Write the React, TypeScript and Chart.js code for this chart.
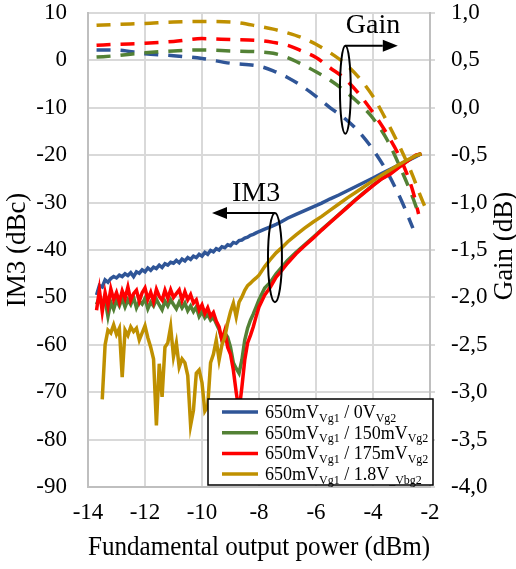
import React, { useEffect, useRef } from 'react';
import { Chart, registerables } from 'chart.js';

Chart.register(...registerables);

const FONT = '"Liberation Serif", "Times New Roman", serif';

// ---- IM3 (left axis, dBc) ----
const IM3_X = [
  -13.7, -13.6, -13.5, -13.4, -13.3, -13.2, -13.1, -13.0, -12.9, -12.8,
  -12.7, -12.6, -12.5, -12.4, -12.3, -12.2, -12.1, -12.0, -11.9, -11.8,
  -11.7, -11.6, -11.5, -11.4, -11.3, -11.2, -11.1, -11.0, -10.9, -10.8,
  -10.7, -10.6, -10.5, -10.4, -10.3, -10.2, -10.1, -10.0, -9.9, -9.8,
  -9.7, -9.6, -9.5, -9.4, -9.3, -9.2, -9.1, -9.0, -8.9, -8.8,
  -8.7, -8.6, -8.5, -8.4, -8.3, -8.2, -8.1, -8.0,
  -7.8, -7.6, -7.4, -7.2, -7.0, -6.7, -6.4, -6.1, -5.8, -5.5,
  -5.2, -4.9, -4.6, -4.3, -4.0, -3.7, -3.4, -3.1, -2.8, -2.5, -2.3,
];

const IM3_BLUE = [
  -49.5, -47.5, -47.8, -46.3, -46.8, -46.0, -45.6, -45.9, -45.3, -45.6,
  -45.0, -45.4, -44.8, -45.6, -44.6, -44.9, -44.2, -44.6, -43.8, -44.3,
  -43.6, -43.9, -43.2, -43.7, -42.9, -43.2, -42.6, -42.8, -42.2, -42.7,
  -41.9, -42.3, -41.6, -42.0, -41.3, -41.6, -40.9, -41.3, -40.5, -40.9,
  -40.1, -40.4, -39.7, -40.0, -39.3, -39.5, -38.9, -39.1, -38.4, -38.6,
  -38.0, -37.9, -37.5, -37.3, -36.9, -36.7, -36.4, -36.1,
  -35.6, -35.1, -34.6, -34.0, -33.3, -32.5, -31.7, -30.9, -30.1, -29.2,
  -28.4, -27.5, -26.6, -25.7, -24.8, -23.9, -23.0, -22.1, -21.2, -20.3, -19.7,
];

const IM3_GREEN = [
  -51.5, -50.0, -51.8, -50.5, -54.0, -51.0, -52.5, -50.6, -51.8, -50.2,
  -52.0, -50.5, -51.5, -50.0, -52.2, -50.8, -51.4, -50.2, -52.4, -51.0,
  -51.8, -50.4, -51.6, -52.6, -50.8, -51.8, -50.5, -51.5, -52.4, -51.0,
  -52.2, -51.2, -52.8, -51.8, -53.0, -52.0, -54.0, -53.0, -54.3, -53.6,
  -54.8, -54.2, -55.5, -56.8, -59.0, -57.5, -58.4, -60.5, -63.8, -65.0,
  -66.0, -63.2, -59.0, -56.5, -54.8, -53.5, -52.0, -50.5,
  -48.0, -46.8, -45.0, -43.6, -42.2, -40.5, -38.9, -37.3, -35.7, -34.1,
  -32.5, -30.9, -29.3, -27.8, -26.3, -25.0, -23.8, -22.5, -21.2, -20.1, -19.7,
];

const IM3_RED = [
  -52.7, -48.4, -53.0, -49.0, -51.8, -48.2, -50.5, -49.0, -51.0, -48.6,
  -50.2, -47.8, -50.6, -49.2, -48.5, -50.8, -49.0, -48.0, -50.4, -48.9,
  -50.9, -48.3, -49.8, -50.6, -48.5, -50.2, -48.4, -50.0, -49.2, -48.4,
  -50.6, -48.8, -50.5, -49.4, -51.2, -50.5, -52.7, -51.6, -53.4, -52.2,
  -54.0, -53.2, -55.0, -56.2, -59.0, -57.0, -60.5, -62.0, -65.3, -70.0,
  -74.0, -68.9, -63.2, -59.6, -58.0, -56.2, -54.0, -52.0,
  -49.5, -47.8, -45.7, -44.3, -42.8, -40.8, -39.1, -37.5, -35.8, -34.2,
  -32.6, -31.0, -29.4, -27.9, -26.4, -25.0, -24.0, -22.6, -21.3, -20.0, -19.7,
];

const IM3_GOLD = [
  null, null, -71.5, -60.0, -56.9, -57.5, -55.8, -57.8, -56.5, -66.8,
  -56.9, -58.0, -56.2, -57.2, -56.5, -59.0, -57.5, -56.0, -58.5, -60.5,
  -63.0, -77.0, -64.0, -71.0, -60.5, -59.6, -56.2, -62.5, -59.6, -64.7,
  -63.0, -63.8, -66.5, -77.0, -73.8, -66.0, -65.3, -68.0, -74.0, -73.0,
  -63.8, -62.0, -59.0, -63.2, -60.0, -58.4, -55.4, -53.0, -51.2, -54.1,
  -51.0, -49.9, -48.5, -47.5, -47.0, -46.4, -45.9, -45.3,
  -43.5, -42.0, -40.6, -39.5, -38.3, -36.8, -35.4, -34.1, -32.9, -31.6,
  -30.3, -29.0, -27.8, -26.6, -25.4, -24.2, -23.1, -22.0, -21.0, -20.1, -19.7,
];

// ---- Gain (right axis, dB) ----
const GAIN_X = [
  -13.7, -13.0, -12.0, -11.0, -10.0, -9.0, -8.0, -7.5, -7.0, -6.5,
  -6.0, -5.5, -5.0, -4.5, -4.0, -3.5, -3.0, -2.6, -2.4, -2.1,
];
const GAIN_BLUE = [
  0.61, 0.61, 0.57, 0.55, 0.52, 0.47, 0.44, 0.39, 0.32, 0.23,
  0.12, 0.0, -0.11, -0.25, -0.44, -0.68, -0.98, -1.27, null, null,
];
const GAIN_GREEN = [
  0.535, 0.55, 0.58, 0.6, 0.61, 0.6, 0.59, 0.575, 0.53, 0.46,
  0.38, 0.29, 0.18, 0.05, -0.11, -0.34, -0.66, -0.95, -1.12, null,
];
const GAIN_RED = [
  0.66, 0.67, 0.68, 0.7, 0.73, 0.72, 0.71, 0.69, 0.66, 0.6,
  0.53, 0.42, 0.31, 0.15, -0.05, -0.28, -0.56, -0.88, -1.12, null,
];
const GAIN_GOLD = [
  0.87, 0.88, 0.89, 0.905, 0.91, 0.905, 0.86, 0.83, 0.79, 0.74,
  0.67, 0.58, 0.47, 0.32, 0.12, -0.15, -0.45, -0.72, -0.88, -1.1,
];

const COLORS = ['#2F5597', '#538135', '#FF0000', '#BF9000'];

const LEGEND = [
  [['650mV', false], ['Vg1', true], [' / 0V', false], ['Vg2', true]],
  [['650mV', false], ['Vg1', true], [' / 150mV', false], ['Vg2', true]],
  [['650mV', false], ['Vg1', true], [' / 175mV', false], ['Vg2', true]],
  [['650mV', false], ['Vg1', true], [' / 1.8V', false], ['_Vbg2', true]],
] as [string, boolean][][];

const RIGHT_TITLE = 'Gain (dB)';

// annotation marks (data units: x in dBm, y on the IM3 axis)
const GAIN_ELLIPSE = { x: -4.97, y: -6.2, rx: 0.19, ry: 9.3, arrowTo: -3.13 };
const IM3_ELLIPSE = { x: -7.44, y: -41.6, rx: 0.245, ry: 9.4, arrowTo: -9.65 };
const GAIN_LABEL = { text: 'Gain', x: -4.0, y: 5.8 };
const IM3_LABEL = { text: 'IM3', x: -8.1, y: -29.7 };

const pts = (xs: number[], ys: (number | null)[]) => xs.map((x, i) => ({ x, y: ys[i] }));

const annotPlugin = {
  id: 'annot',
  afterDatasetsDraw(chart: any) {
    const { ctx, scales } = chart;
    const x = scales.x;
    const y = scales.y;
    ctx.save();
    ctx.strokeStyle = '#000';
    ctx.fillStyle = '#000';
    ctx.lineWidth = 2;
    const drawMark = (e: any, dir: number) => {
      const cx = x.getPixelForValue(e.x);
      const cy = y.getPixelForValue(e.y);
      const rx = Math.abs(x.getPixelForValue(e.x + e.rx) - cx);
      const ry = Math.abs(y.getPixelForValue(e.y + e.ry) - cy);
      ctx.beginPath();
      ctx.ellipse(cx, cy, rx, ry, 0, 0, Math.PI * 2);
      ctx.stroke();
      const topY = cy - ry;
      const tipX = x.getPixelForValue(e.arrowTo);
      const headLen = 15;
      ctx.beginPath();
      ctx.moveTo(cx, topY);
      ctx.lineTo(tipX - dir * headLen, topY);
      ctx.stroke();
      ctx.beginPath();
      ctx.moveTo(tipX, topY);
      ctx.lineTo(tipX - dir * headLen, topY - 6);
      ctx.lineTo(tipX - dir * headLen, topY + 6);
      ctx.closePath();
      ctx.fill();
    };
    drawMark(GAIN_ELLIPSE, 1);
    drawMark(IM3_ELLIPSE, -1);
    ctx.font = `28px ${FONT}`;
    ctx.textAlign = 'center';
    ctx.textBaseline = 'alphabetic';
    for (const l of [GAIN_LABEL, IM3_LABEL]) {
      ctx.fillText(l.text, x.getPixelForValue(l.x), y.getPixelForValue(l.y));
    }
    ctx.restore();
  },
  afterDraw(chart: any) {
    const { ctx, chartArea, scales } = chart;
    // right axis title, reading bottom-to-top like the left one
    const r = scales.y1;
    ctx.save();
    ctx.translate(r.right - 11, (chartArea.top + chartArea.bottom) / 2 - 4);
    ctx.rotate(-Math.PI / 2);
    ctx.font = `27px ${FONT}`;
    ctx.fillStyle = '#000';
    ctx.textAlign = 'center';
    ctx.textBaseline = 'middle';
    ctx.fillText(RIGHT_TITLE, 0, 0);
    ctx.restore();

    const w = 225;
    const h = 86;
    const left = chartArea.right + 3 - w;
    const top = chartArea.bottom - 88;
    ctx.save();
    ctx.fillStyle = '#fff';
    ctx.fillRect(left, top, w, h);
    ctx.strokeStyle = '#000';
    ctx.lineWidth = 1.5;
    ctx.strokeRect(left, top, w, h);
    LEGEND.forEach((segs, i) => {
      const cy = top + 13 + i * 20.7;
      ctx.strokeStyle = COLORS[i];
      ctx.lineWidth = 3.5;
      ctx.beginPath();
      ctx.moveTo(left + 14, cy);
      ctx.lineTo(left + 50, cy);
      ctx.stroke();
      let tx = left + 57;
      ctx.fillStyle = '#000';
      ctx.textAlign = 'left';
      ctx.textBaseline = 'alphabetic';
      for (const [t, sub] of segs) {
        ctx.font = sub ? `12px ${FONT}` : `18px ${FONT}`;
        ctx.fillText(t, tx, sub ? cy + 9.5 : cy + 6);
        tx += ctx.measureText(t).width;
      }
    });
    ctx.restore();
  },
};

export default function App() {
  const ref = useRef<HTMLCanvasElement>(null);
  useEffect(() => {
    if (!ref.current) return;
    const im3Sets = [IM3_BLUE, IM3_GREEN, IM3_RED, IM3_GOLD];
    const gainSets = [GAIN_BLUE, GAIN_GREEN, GAIN_RED, GAIN_GOLD];
    const datasets: any[] = [];
    im3Sets.forEach((ys, i) => {
      datasets.push({
        data: pts(IM3_X, ys),
        yAxisID: 'y',
        borderColor: COLORS[i],
        borderWidth: 3.5,
        pointRadius: 0,
        tension: 0,
        order: 4 - i,
      });
    });
    gainSets.forEach((ys, i) => {
      datasets.push({
        data: pts(GAIN_X, ys),
        yAxisID: 'y1',
        borderColor: COLORS[i],
        borderWidth: 3.5,
        borderDash: [14, 10],
        pointRadius: 0,
        cubicInterpolationMode: 'monotone',
        order: 10 - i,
      });
    });
    const tickFont = { family: FONT, size: 23, lineHeight: 1 };
    const titleFont = { family: FONT, size: 27, lineHeight: 0.8 };
    const noPadV = (w: number) => (s: any) => {
      s.width = w;
      s.paddingTop = 0;
      s.paddingBottom = 0;
    };
    const chart = new Chart(ref.current, {
      type: 'line',
      data: { datasets },
      options: {
        responsive: false,
        animation: false,
        layout: { padding: { top: 13, left: 0, right: 0, bottom: 0 } },
        plugins: { legend: { display: false }, tooltip: { enabled: false } },
        scales: {
          x: {
            type: 'linear',
            min: -14,
            max: -2,
            position: 'bottom',
            ticks: { stepSize: 2, font: tickFont, color: '#000', padding: 14, maxRotation: 0 },
            grid: { color: '#d9d9d9', lineWidth: 2, drawTicks: false },
            border: { color: '#bfbfbf', width: 2 },
            title: {
              display: true,
              text: 'Fundamental output power (dBm)',
              font: titleFont,
              color: '#000',
              padding: { top: 0, bottom: 10 },
            },
            afterFit: (s: any) => {
              s.height = 82;
              s.paddingLeft = 0;
              s.paddingRight = 0;
            },
          },
          y: {
            type: 'linear',
            position: 'left',
            min: -90,
            max: 10,
            ticks: { stepSize: 10, font: tickFont, color: '#000', padding: 21 },
            grid: { color: '#d9d9d9', lineWidth: 2, drawTicks: false },
            border: { color: '#bfbfbf', width: 2 },
            title: { display: true, text: 'IM3 (dBc)', font: titleFont, color: '#000', padding: { top: 7, bottom: 0 } },
            afterFit: noPadV(88),
          },
          y1: {
            type: 'linear',
            position: 'right',
            min: -4,
            max: 1,
            ticks: {
              stepSize: 0.5,
              font: tickFont,
              color: '#000',
              padding: 16,
              callback: (v: any) => Number(v).toFixed(1).replace('.', ','),
            },
            grid: { drawOnChartArea: false, color: '#d9d9d9', lineWidth: 2, tickLength: 5 },
            border: { color: '#bfbfbf', width: 2 },
            title: { display: false },
            afterFit: noPadV(86),
          },
        },
      },
      plugins: [annotPlugin],
    } as any);
    return () => chart.destroy();
  }, []);
  return (
    <div style={{ position: 'fixed', left: 0, top: 0, width: 516, height: 569, background: '#fff' }}>
      <canvas ref={ref} width={516} height={569} style={{ display: 'block' }} />
    </div>
  );
}
